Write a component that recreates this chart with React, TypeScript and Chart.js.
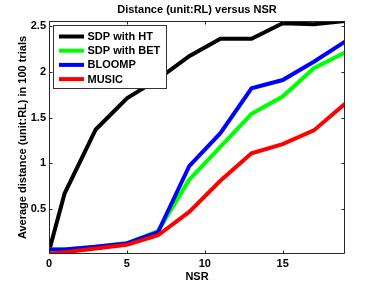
import React, { useEffect, useRef } from "react";
import { Chart, registerables } from "chart.js";

Chart.register(...registerables);

const chartTitle = "Distance (unit:RL) versus NSR";
const xTitle = "NSR";
const yTitle = "Average distance (unit:RL) in 100 trials";
const nsr = [0, 1, 3, 5, 7, 9, 11, 13, 15, 17, 19];
const sdpHT = [0.04, 0.67, 1.37, 1.71, 1.92, 2.17, 2.36, 2.36, 2.53, 2.52, 2.555];
const sdpBET = [0.06, 0.06, 0.09, 0.13, 0.26, 0.82, 1.18, 1.54, 1.73, 2.04, 2.21];
const bloomp = [0.06, 0.06, 0.09, 0.125, 0.25, 0.97, 1.33, 1.82, 1.91, 2.11, 2.33];
const music = [0.01, 0.03, 0.07, 0.11, 0.215, 0.47, 0.81, 1.11, 1.21, 1.36, 1.65];
const seriesLabels = ["SDP with HT", "SDP with BET", "BLOOMP", "MUSIC"];
const seriesColors = ["#000000", "#00ff00", "#0000ff", "#ff0000"];
const seriesValues = [sdpHT, sdpBET, bloomp, music];
const xTicks = [0, 5, 10, 15];
const yTicks = [0.5, 1, 1.5, 2, 2.5];
const xRange = [0, 19];
const yRange = [0.01, 2.555];

const FONT = "'Liberation Sans', Arial, Helvetica, sans-serif";

const boxPlugin = {
  id: "boxAndTicks",
  afterDatasetsDraw(chart: any) {
    const { ctx, chartArea: a } = chart;
    const xs = chart.scales.x;
    const ys = chart.scales.y;
    const L = Math.round(a.left) + 0.5;
    const R = Math.round(a.right) - 0.5;
    const T = Math.round(a.top) + 0.5;
    const B = Math.round(a.bottom) - 0.5;
    const tl = 3;
    ctx.save();
    ctx.strokeStyle = "#262626";
    ctx.lineWidth = 1;
    ctx.beginPath();
    ctx.rect(L, T, R - L, B - T);
    for (const v of xTicks) {
      const px = Math.round(xs.getPixelForValue(v)) + 0.5;
      ctx.moveTo(px, B);
      ctx.lineTo(px, B - tl);
      ctx.moveTo(px, T);
      ctx.lineTo(px, T + tl);
    }
    for (const v of yTicks) {
      const py = Math.round(ys.getPixelForValue(v)) + 0.5;
      ctx.moveTo(L, py);
      ctx.lineTo(L + tl, py);
      ctx.moveTo(R, py);
      ctx.lineTo(R - tl, py);
    }
    ctx.stroke();

    // legend box
    const x0 = Math.round(a.left) + 4.5;
    const y0 = Math.round(a.top) + 4.5;
    const w = 113;
    const h = 63;
    ctx.fillStyle = "#ffffff";
    ctx.fillRect(x0, y0, w, h);
    ctx.strokeStyle = "#333333";
    ctx.strokeRect(x0, y0, w, h);
    ctx.font = `bold 11px ${FONT}`;
    ctx.textBaseline = "middle";
    ctx.textAlign = "left";
    chart.data.datasets.forEach((ds: any, i: number) => {
      const cy = y0 + 11 + i * 14.2;
      ctx.strokeStyle = ds.borderColor;
      ctx.lineWidth = 4;
      ctx.beginPath();
      ctx.moveTo(x0 + 5.5, cy);
      ctx.lineTo(x0 + 30.5, cy);
      ctx.stroke();
      ctx.fillStyle = "#000000";
      ctx.fillText(ds.label, x0 + 34, cy + 0.5);
    });
    ctx.restore();
  },
};

export default function App() {
  const ref = useRef<HTMLCanvasElement | null>(null);
  useEffect(() => {
    if (!ref.current) return;
    const datasets = seriesLabels.map((label, i) => ({
      label,
      data: nsr.map((x, j) => ({ x, y: seriesValues[i][j] })),
      borderColor: seriesColors[i],
      backgroundColor: seriesColors[i],
      borderWidth: 4,
      pointRadius: 0,
      tension: 0,
      fill: false,
      clip: 0,
      order: seriesLabels.length - i,
      borderJoinStyle: "miter" as const,
    }));
    const chart = new Chart(ref.current, {
      type: "line",
      data: { datasets },
      plugins: [boxPlugin],
      options: {
        animation: false,
        responsive: false,
        maintainAspectRatio: false,
        layout: { padding: { left: 0, right: 37, top: 0, bottom: 0 } },
        plugins: {
          legend: { display: false },
          tooltip: { enabled: false },
          title: {
            display: true,
            text: chartTitle,
            fullSize: false,
            color: "#000",
            font: { family: FONT, size: 11, weight: "bold" },
            padding: { top: 3.5, bottom: 4.3 },
          },
        },
        scales: {
          x: {
            type: "linear",
            min: xRange[0],
            max: xRange[1],
            grid: { display: false, drawTicks: false, tickLength: 0 },
            border: { display: false },
            afterBuildTicks: (s: any) => {
              s.ticks = xTicks.map((value) => ({ value }));
            },
            afterFit: (s: any) => {
              s.height = 33;
            },
            ticks: {
              color: "#000",
              padding: 3,
              maxRotation: 0,
              font: { family: FONT, size: 11, weight: "bold" },
            },
            title: {
              display: true,
              text: xTitle,
              color: "#000",
              font: { family: FONT, size: 11, weight: "bold" },
              padding: { top: 0, bottom: 3 },
            },
          },
          y: {
            type: "linear",
            min: yRange[0],
            max: yRange[1],
            grid: { display: false, drawTicks: false, tickLength: 0 },
            border: { display: false },
            afterBuildTicks: (s: any) => {
              s.ticks = yTicks.map((value) => ({ value }));
            },
            afterFit: (s: any) => {
              s.width = 49;
            },
            ticks: {
              color: "#000",
              padding: 3,
              font: { family: FONT, size: 11, weight: "bold" },
              callback: (v: any) => String(v),
            },
            title: {
              display: true,
              text: yTitle,
              color: "#000",
              font: { family: FONT, size: 11, weight: "bold" },
              padding: { top: 16, bottom: 0 },
            },
          },
        },
      },
    });
    return () => chart.destroy();
  }, []);
  return (
    <div style={{ position: "fixed", left: 0, top: 0, width: 382, height: 287, background: "#fff" }}>
      <canvas ref={ref} width={382} height={287} style={{ width: 382, height: 287, display: "block" }} />
    </div>
  );
}
